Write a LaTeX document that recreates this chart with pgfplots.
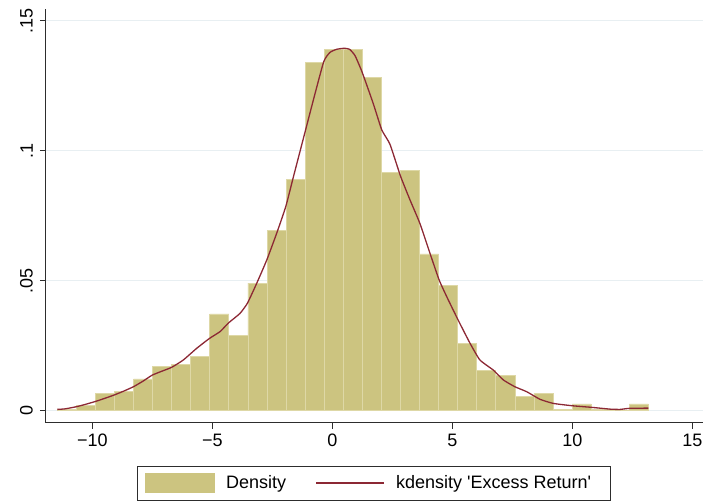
\documentclass[border=0pt]{standalone}
\usepackage{fontspec}
\setmainfont{Liberation Sans}[Ligatures=TeXOff]
\usepackage{pgfplots}
\pgfplotsset{compat=1.18}
\definecolor{barfill}{RGB}{204,196,128}
\definecolor{baredge}{RGB}{222,216,166}
\definecolor{kline}{RGB}{140,40,52}
\definecolor{gridc}{RGB}{232,239,242}
\definecolor{axisc}{RGB}{45,45,45}
\begin{document}
\begin{tikzpicture}[x=1pt,y=1pt]
\useasboundingbox (0,0) rectangle (704,501);
\begin{axis}[
  at={(46pt,78.3pt)}, anchor=south west,
  scale only axis, width=657pt, height=413.7pt,
  xmin=-11.93, xmax=15.445, ymin=-0.004615, ymax=0.1545,
  axis lines=left, axis line style={-, axisc, line width=1pt},
  tick align=outside, major tick length=6pt, tick style={axisc, line width=1pt},
  xtick={-10,-5,0,5,10,15}, xticklabels={−10,−5,0,5,10,15},
  ytick={0,0.05,0.1,0.15}, yticklabels={0,.05,.1,.15},
  ymajorgrids, grid style={gridc, line width=1pt},
  yticklabel style={rotate=90, anchor=south, inner sep=0pt, yshift=7pt},
  xticklabel style={anchor=north, inner sep=0pt, yshift=-5pt},
  ticklabel style={font=\fontsize{18}{21}\selectfont},
  legend columns=2,
  legend style={at={(rel axis cs:0.4988,-0.1458)}, anchor=center,
    draw=axisc, line width=0.8pt, inner xsep=7.7pt, inner ysep=7.5pt,
    font=\fontsize{18}{21}\selectfont,
    nodes={inner sep=0pt},
    /tikz/every odd column/.append style={column sep=11.2pt},
    /tikz/every even column/.append style={column sep=29.5pt}},
]
\addplot[ybar interval, fill=barfill, draw=baredge, line width=0.8pt,
  legend image code/.code={\fill[barfill] (0pt,-9.2pt) rectangle (69pt,9.2pt);}]
coordinates {
(-11.4600,0.0006) (-10.6655,0.0019) (-9.8710,0.0067) (-9.0765,0.0075)
(-8.2820,0.0122) (-7.4875,0.0171) (-6.6930,0.0178) (-5.8985,0.0210)
(-5.1040,0.0372) (-4.3095,0.0291) (-3.5150,0.0491) (-2.7205,0.0692)
(-1.9260,0.0891) (-1.1315,0.1341) (-0.3370,0.1388) (0.4575,0.1388)
(1.2520,0.1283) (2.0465,0.0915) (2.8410,0.0923) (3.6355,0.0603)
(4.4300,0.0483) (5.2245,0.0259) (6.0190,0.0155) (6.8135,0.0137)
(7.6080,0.0056) (8.4025,0.0067) (9.1970,0.0006) (9.9915,0.0026)
(10.7860,0.0006) (11.5805,0.0000) (12.3750,0.0026) (13.1695,0.0026)
};
\addlegendentry{Density}
\addplot[kline, line width=1.3pt, smooth, tension=0.3,
  legend image code/.code={\draw[kline, line width=1.3pt] (0pt,0pt) -- (68pt,0pt);}]
coordinates {
(-11.46,0.0005) (-11.14,0.0007) (-10.68,0.0015) (-10.3,0.0024) (-9.89,0.0035)
(-9.5,0.0047) (-9.10,0.0060) (-8.7,0.0075) (-8.29,0.0092) (-7.9,0.0113)
(-7.50,0.0137) (-7.1,0.0152) (-6.69,0.0167) (-6.21,0.0195) (-5.65,0.0240)
(-5.12,0.0278) (-4.68,0.0304) (-4.32,0.0338) (-3.85,0.0374) (-3.54,0.0413)
(-3.15,0.0490) (-2.73,0.0580) (-2.32,0.0682) (-1.94,0.0785) (-1.62,0.0900)
(-1.15,0.1067) (-0.79,0.1195) (-0.36,0.1342) (-0.10,0.1378) (0.18,0.1390)
(0.5,0.1394) (0.72,0.1390) (0.95,0.1365) (1.25,0.1300) (1.71,0.1180)
(2.06,0.1080) (2.40,0.1025) (2.85,0.0900) (3.24,0.0810) (3.65,0.0720)
(4.07,0.0605) (4.45,0.0503) (4.77,0.0438) (5.24,0.0349) (5.74,0.0259)
(6.15,0.0195) (6.71,0.0156) (7.13,0.0118) (7.61,0.0092) (8.10,0.0073)
(8.65,0.0044) (9.21,0.0028) (10.0,0.0019) (10.79,0.0013) (11.58,0.0006)
(11.99,0.0005) (12.38,0.0009) (13.17,0.0010)
};
\addlegendentry{kdensity 'Excess Return'\kern11.3pt}
\end{axis}
\end{tikzpicture}
\end{document}
